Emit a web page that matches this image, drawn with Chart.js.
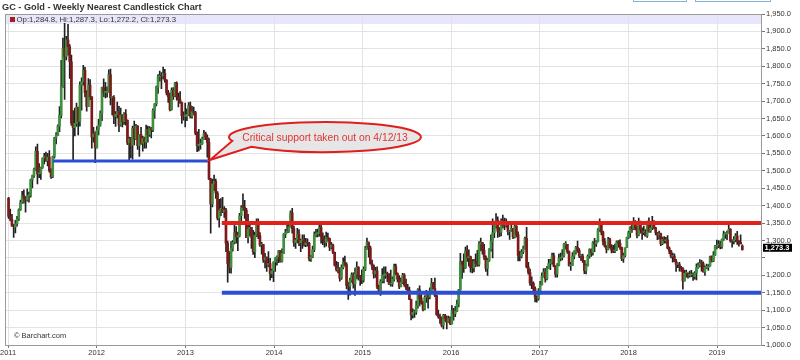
<!DOCTYPE html>
<html><head><meta charset="utf-8">
<script src="https://cdn.jsdelivr.net/npm/chart.js@4.4.1/dist/chart.umd.min.js"></script>
<style>html,body{margin:0;padding:0;background:#fff;}canvas{display:block;}</style>
</head><body>
<canvas id="c" width="800" height="360"></canvas>
<script>
const chartTitle = 'GC - Gold - Weekly Nearest Candlestick Chart';
const firstWeek = '2011-01-03';
const yearLabels = ['2011','2012','2013','2014','2015','2016','2017','2018','2019'];

// weekly OHLC, one value per week (2011 ... 2019)
const opens = [
1421,1369,1361,1342,1338,1348,1361,1388,1409,1429,1421,1416,1428,1429,1474,1486,1504,1556,1491,1493,1509,1536,1542,1529,1539,1500,1483,1541,1594,1601,1628,1659,1742,1852,1828,1876,1856,1813,1637,1624,1636,1682,1642,1746,1755,1788,1724,1684,1746,1712,1597,1606,
1566,1617,1631,1665,1739,1725,1725,1725,1776,1710,1711,1656,1662,1669,1631,1660,1642,1663,1645,1580,1592,1573,1622,1591,1628,1572,1604,1579,1593,1582,1619,1604,1621,1617,1673,1692,1740,1770,1773,1772,1780,1760,1724,1712,1676,1731,1714,1751,1711,1704,1696,1658,
1656,1656,1662,1687,1657,1669,1667,1609,1572,1576,1577,1592,1607,1596,1581,1476,1405,1462,1470,1436,1365,1386,1392,1383,1387,1292,1234,1223,1277,1295,1322,1310,1313,1371,1396,1395,1387,1308,1333,1338,1309,1268,1315,1352,1314,1287,1288,1244,1250,1230,1234,1204,
1213,1238,1248,1254,1270,1240,1263,1318,1323,1326,1339,1379,1334,1294,1302,1318,1293,1300,1302,1288,1293,1292,1246,1253,1274,1316,1320,1320,1338,1310,1303,1294,1309,1306,1280,1287,1266,1229,1216,1218,1192,1222,1238,1231,1171,1169,1186,1201,1175,1204,1223,1196,
1195,1186,1217,1277,1294,1279,1234,1227,1204,1213,1167,1153,1183,1199,1201,1205,1203,1175,1175,1189,1225,1205,1189,1168,1180,1201,1173,1164,1157,1131,1086,1094,1094,1113,1159,1134,1121,1103,1137,1146,1137,1155,1177,1162,1142,1088,1081,1076,1056,1085,1075,1065,
1076,1061,1098,1090,1097,1117,1158,1239,1231,1221,1270,1250,1254,1222,1221,1240,1235,1231,1290,1294,1272,1252,1220,1243,1275,1298,1322,1340,1358,1327,1323,1357,1344,1343,1346,1325,1327,1335,1310,1341,1317,1257,1254,1267,1276,1306,1224,1208,1178,1177,1162,1137,1133,
1152,1173,1197,1210,1190,1220,1234,1239,1257,1226,1203,1230,1249,1251,1257,1289,1289,1268,1228,1228,1255,1268,1280,1271,1256,1256,1242,1213,1228,1255,1274,1264,1294,1291,1297,1330,1351,1324,1297,1284,1274,1304,1280,1272,1269,1273,1296,1292,1280,1248,1257,1279,
1309,1322,1338,1333,1350,1333,1315,1353,1330,1323,1324,1313,1349,1327,1336,1347,1336,1323,1315,1320,1291,1303,1299,1302,1278,1270,1254,1255,1241,1231,1231,1223,1219,1184,1206,1206,1200,1201,1201,1196,1207,1222,1229,1236,1234,1210,1223,1223,1226,1252,1241,1258,
1283,1286,1290,1282,1303,1318,1318,1322,1332,1299,1298,1302,1313,1298,1295,1284.8];
const highs = [
1424,1390,1375,1346,1358,1369,1391,1416,1441,1445,1426,1448,1439,1476,1488,1508,1569,1577,1521,1511,1537,1550,1554,1550,1558,1506,1542,1596,1610,1632,1684,1817,1881,1923,1886,1920,1862,1832,1673,1680,1694,1683,1755,1767,1803,1797,1730,1765,1762,1713,1625,1612,
1627,1648,1672,1740,1764,1754,1741,1790,1792,1714,1716,1670,1697,1685,1680,1661,1667,1676,1646,1597,1596,1628,1643,1633,1630,1605,1625,1599,1597,1631,1628,1627,1625,1678,1693,1743,1776,1786,1782,1798,1791,1762,1731,1723,1738,1739,1754,1755,1723,1727,1697,1669,
1694,1678,1696,1697,1685,1683,1671,1612,1619,1591,1597,1616,1611,1603,1593,1478,1476,1488,1476,1440,1418,1420,1424,1397,1392,1298,1268,1297,1300,1348,1340,1324,1378,1400,1434,1415,1392,1375,1347,1338,1329,1324,1362,1362,1323,1295,1289,1263,1253,1268,1249,1218,
1239,1251,1256,1272,1271,1276,1320,1332,1345,1355,1385,1392,1341,1306,1335,1331,1304,1316,1316,1306,1305,1295,1257,1284,1325,1332,1333,1346,1344,1322,1313,1324,1321,1307,1295,1290,1267,1240,1237,1222,1230,1250,1255,1236,1180,1192,1207,1207,1221,1239,1225,1200,
1216,1224,1283,1307,1296,1284,1244,1230,1223,1224,1172,1188,1219,1224,1224,1209,1205,1215,1196,1232,1232,1207,1199,1193,1206,1205,1189,1174,1166,1132,1104,1100,1126,1162,1170,1148,1125,1142,1157,1147,1164,1191,1180,1192,1143,1100,1089,1081,1088,1088,1083,1083,
1081,1113,1105,1111,1129,1160,1263,1241,1262,1281,1285,1273,1255,1245,1246,1262,1272,1297,1307,1295,1289,1256,1248,1277,1316,1362,1343,1377,1368,1337,1362,1373,1364,1362,1348,1329,1355,1335,1345,1343,1325,1269,1274,1284,1310,1338,1237,1218,1196,1181,1167,1141,1162,
1183,1207,1219,1220,1226,1246,1246,1264,1264,1228,1234,1261,1264,1274,1292,1297,1289,1270,1237,1265,1271,1283,1298,1277,1260,1261,1243,1232,1259,1276,1276,1297,1306,1300,1334,1362,1351,1327,1306,1285,1309,1307,1288,1286,1290,1299,1300,1302,1281,1264,1279,1310,
1327,1340,1345,1366,1357,1342,1364,1356,1336,1341,1331,1356,1365,1349,1369,1357,1338,1323,1327,1321,1310,1311,1309,1314,1282,1272,1264,1262,1246,1236,1237,1226,1222,1214,1215,1207,1212,1214,1207,1211,1233,1236,1245,1243,1239,1227,1232,1231,1255,1256,1268,1286,
1301,1300,1298,1305,1327,1323,1327,1346,1334,1302,1311,1320,1326,1300,1316,1287.3];
const lows = [
1363,1356,1340,1309,1322,1341,1357,1386,1406,1407,1381,1413,1410,1424,1451,1481,1501,1462,1480,1475,1507,1520,1527,1514,1496,1478,1480,1536,1577,1601,1612,1652,1739,1705,1818,1832,1765,1630,1532,1600,1627,1603,1628,1674,1746,1712,1671,1684,1704,1565,1582,1523,
1565,1603,1628,1644,1713,1709,1711,1725,1689,1660,1635,1627,1652,1612,1628,1626,1633,1631,1575,1527,1537,1533,1574,1589,1561,1541,1576,1556,1565,1565,1582,1599,1594,1612,1650,1686,1722,1757,1736,1764,1754,1718,1696,1672,1674,1705,1713,1703,1683,1693,1636,1645,
1626,1644,1659,1652,1651,1660,1604,1555,1557,1562,1576,1590,1589,1539,1475,1321,1396,1443,1421,1359,1338,1371,1380,1366,1268,1180,1207,1206,1269,1290,1292,1271,1310,1348,1386,1363,1308,1293,1313,1277,1260,1251,1311,1305,1283,1261,1237,1221,1211,1225,1186,1193,
1182,1211,1229,1236,1238,1238,1262,1308,1322,1323,1338,1321,1283,1277,1293,1285,1268,1277,1284,1282,1284,1241,1240,1251,1268,1310,1310,1312,1292,1288,1281,1284,1298,1271,1276,1262,1226,1212,1207,1183,1188,1218,1226,1161,1131,1143,1180,1163,1142,1190,1186,1171,
1176,1180,1213,1274,1252,1232,1216,1192,1194,1162,1147,1142,1178,1178,1191,1182,1173,1169,1168,1183,1201,1181,1162,1167,1176,1168,1159,1147,1130,1072,1077,1079,1088,1106,1112,1117,1098,1101,1122,1106,1132,1153,1160,1139,1085,1077,1062,1052,1046,1068,1046,1064,
1058,1060,1071,1081,1096,1109,1157,1191,1208,1220,1240,1226,1209,1207,1210,1225,1226,1226,1270,1261,1245,1211,1200,1240,1269,1250,1308,1335,1309,1311,1313,1336,1331,1338,1316,1303,1326,1305,1307,1310,1241,1241,1250,1262,1275,1221,1203,1171,1162,1156,1124,1123,1129,
1146,1172,1195,1180,1187,1219,1216,1232,1224,1195,1195,1227,1241,1244,1253,1275,1263,1226,1214,1228,1247,1261,1266,1251,1243,1237,1205,1204,1226,1249,1254,1258,1268,1283,1296,1326,1316,1287,1281,1264,1273,1278,1264,1265,1265,1271,1281,1274,1242,1237,1253,1279,
1305,1309,1323,1331,1330,1307,1313,1321,1303,1317,1312,1309,1323,1323,1331,1333,1316,1302,1304,1285,1288,1292,1292,1276,1262,1250,1238,1239,1211,1222,1212,1211,1160,1183,1195,1192,1195,1196,1185,1189,1187,1220,1224,1212,1209,1200,1219,1214,1226,1238,1239,1257,
1276,1279,1276,1277,1300,1306,1302,1321,1295,1281,1290,1296,1289,1284,1290,1272.2];
const closes = [
1369,1361,1342,1341,1348,1361,1388,1409,1429,1421,1416,1428,1429,1474,1486,1504,1556,1491,1493,1509,1536,1542,1529,1539,1500,1483,1541,1594,1601,1628,1659,1742,1852,1828,1876,1856,1813,1637,1624,1636,1682,1642,1746,1755,1788,1724,1684,1746,1712,1597,1606,1566,
1617,1631,1665,1739,1725,1725,1725,1776,1710,1711,1656,1662,1669,1631,1660,1642,1663,1645,1580,1592,1573,1622,1591,1628,1572,1604,1579,1593,1582,1619,1604,1621,1617,1673,1692,1740,1770,1773,1772,1780,1760,1724,1712,1676,1731,1714,1751,1711,1704,1696,1658,1656,
1656,1662,1687,1657,1669,1667,1609,1572,1576,1577,1592,1607,1596,1581,1476,1405,1462,1470,1436,1365,1386,1392,1383,1387,1292,1234,1223,1277,1295,1322,1310,1313,1371,1396,1395,1387,1308,1333,1338,1309,1268,1315,1352,1314,1287,1288,1244,1250,1230,1234,1204,1213,
1238,1248,1254,1270,1240,1263,1318,1323,1326,1339,1379,1334,1294,1302,1318,1293,1300,1302,1288,1293,1292,1246,1253,1274,1316,1320,1320,1338,1310,1303,1294,1309,1306,1280,1287,1266,1229,1216,1218,1192,1222,1238,1231,1171,1169,1186,1201,1175,1204,1223,1196,1195,
1186,1217,1277,1294,1279,1234,1227,1204,1213,1167,1153,1183,1199,1201,1205,1203,1175,1175,1189,1225,1205,1189,1168,1180,1201,1173,1164,1157,1131,1086,1094,1094,1113,1159,1134,1121,1103,1137,1146,1137,1155,1177,1162,1142,1088,1081,1076,1056,1085,1075,1065,1076,
1061,1098,1090,1097,1117,1158,1239,1231,1221,1270,1250,1254,1222,1221,1240,1235,1231,1290,1294,1272,1252,1220,1243,1275,1298,1322,1340,1358,1327,1323,1357,1344,1343,1346,1325,1327,1335,1310,1341,1317,1257,1254,1267,1276,1306,1224,1208,1178,1177,1162,1137,1133,1152,
1173,1197,1210,1190,1220,1234,1239,1257,1226,1203,1230,1249,1251,1257,1289,1289,1268,1228,1228,1255,1268,1280,1271,1256,1256,1242,1213,1228,1255,1274,1264,1294,1291,1297,1330,1351,1324,1297,1284,1274,1304,1280,1272,1269,1273,1296,1292,1280,1248,1257,1279,1309,
1322,1338,1333,1350,1333,1315,1353,1330,1323,1324,1313,1349,1327,1336,1347,1336,1323,1315,1320,1291,1303,1299,1302,1278,1270,1254,1255,1241,1231,1231,1223,1219,1184,1206,1206,1200,1201,1201,1196,1207,1222,1229,1236,1234,1210,1223,1223,1226,1252,1241,1258,1283,
1286,1290,1282,1303,1318,1318,1322,1332,1299,1298,1302,1313,1298,1295,1290,1273.3];

const supportLevels = [1528, 1350, 1150];
const supportFrom = ['2011-07-05', '2013-05-31', '2013-05-31'];
const supportTo = ['2013-04-03', '2019-07-01', '2019-07-01'];
const calloutText = 'Critical support taken out on 4/12/13';
const calloutDate = '2013-04-12';
const calloutLevel = 1528;
const yMin = 1000, yMax = 1950, yStep = 50;
const xFrom = '2010-12-20', xTo = '2019-07-01';

// ---- helpers ----
const BASE = Date.UTC(2011, 0, 1);
const day = s => (Date.parse(s + 'T00:00:00Z') - BASE) / 86400000;
const weekDay = i => day(firstWeek) + 7 * i;
const fmt = v => { const s = Number(v).toFixed(1).split('.'); return s[0].replace(/\B(?=(\d{3})+(?!\d))/g, ',') + '.' + s[1]; };
const FONT = "'Liberation Sans', Arial, sans-serif";
const lastO = opens[opens.length-1], lastH = highs[highs.length-1], lastL = lows[lows.length-1], lastC = closes[closes.length-1];

const UP = '#3f8f3f', DOWN = '#7d1b1b', WICK = '#222222';

const wickData = highs.map((h, i) => ({x: weekDay(i), y: [lows[i], h]}));
const bodyData = opens.map((o, i) => ({x: weekDay(i), y: [Math.min(o, closes[i]), Math.max(o, closes[i])]}));
const bodyColors = opens.map((o, i) => closes[i] >= o ? UP : DOWN);
const lineColors = ['#2b4ed6', '#e3201b', '#2b4ed6'];
const lineWidths = [3, 4, 4];

const supportSets = supportLevels.map((lv, k) => ({
  type: 'line',
  data: [{x: day(supportFrom[k]), y: lv}, {x: day(supportTo[k]), y: lv}],
  borderColor: lineColors[k], borderWidth: lineWidths[k],
  pointRadius: 0, order: 0, clip: false
}));

const decor = {
  id: 'decor',
  beforeDraw(chart) {
    const {ctx, chartArea: a} = chart;
    ctx.save();
    ctx.fillStyle = '#e7e6fa';
    ctx.fillRect(a.left, a.top, a.right - a.left, 10);
    ctx.restore();
  },
  afterDraw(chart) {
    const {ctx, chartArea: a, scales} = chart;
    ctx.save();
    // plot border
    ctx.strokeStyle = '#9a9a9a'; ctx.lineWidth = 1;
    ctx.strokeRect(Math.round(a.left) + 0.5, Math.round(a.top) + 0.5, Math.round(a.right - a.left), Math.round(a.bottom - a.top));
    // title
    ctx.fillStyle = '#333333';
    ctx.font = "bold 9.2px " + FONT;
    ctx.textBaseline = 'alphabetic'; ctx.textAlign = 'left';
    ctx.fillText(chartTitle, 2, 9.6);
    // header OHLC
    ctx.fillStyle = '#a51c1c';
    ctx.fillRect(10, 17, 5, 5);
    ctx.fillStyle = '#333333';
    ctx.font = "7.8px " + FONT;
    ctx.fillText('Op:' + fmt(lastO) + ', Hi:' + fmt(lastH) + ', Lo:' + fmt(lastL) + ', Cl:' + fmt(lastC), 16.5, 22.3);
    // copyright
    ctx.font = "7.5px " + FONT;
    ctx.fillText('\u00A9 Barchart.com', 14, 338);
    // top-right buttons (cut off)
    ctx.strokeStyle = '#86b3d9'; ctx.lineWidth = 1;
    ctx.strokeRect(633.5, -10, 53, 11.5);
    ctx.strokeRect(695.5, -10, 75, 11.5);
    // callout
    const tx = scales.x.getPixelForValue(day(calloutDate));
    const ty = scales.y.getPixelForValue(calloutLevel) - 1;
    const cx = tx + 115, cy = ty - 23, rx = 96, ry = 15;
    const a1 = 165 * Math.PI / 180, a2 = (140 + 360) * Math.PI / 180;
    ctx.beginPath();
    ctx.ellipse(cx, cy, rx, ry, 0, a1, a2);
    ctx.lineTo(tx, ty);
    ctx.closePath();
    ctx.fillStyle = '#e6e6e6';
    ctx.fill();
    ctx.strokeStyle = '#e01e1e'; ctx.lineWidth = 2;
    ctx.stroke();
    ctx.fillStyle = '#e03434';
    ctx.font = "10.3px " + FONT;
    ctx.textAlign = 'center'; ctx.textBaseline = 'middle';
    ctx.fillText(calloutText, cx, cy + 1);
    // last price box
    const py = scales.y.getPixelForValue(lastC) - 2;
    ctx.fillStyle = '#000000';
    ctx.fillRect(a.right + 2, py - 4, 29, 8);
    ctx.fillStyle = '#ffffff';
    ctx.font = "bold 7.5px " + FONT;
    ctx.textAlign = 'left';
    ctx.fillText(fmt(lastC), a.right + 3.5, py + 0.5);
    ctx.restore();
  }
};

new Chart(document.getElementById('c'), {
  type: 'bar',
  data: {
    datasets: [
      {type: 'bar', data: wickData, backgroundColor: WICK, barThickness: 1, grouped: false, order: 3},
      {type: 'bar', data: bodyData, backgroundColor: bodyColors, barThickness: 2, minBarLength: 1, grouped: false, order: 2},
      ...supportSets
    ]
  },
  options: {
    responsive: false, animation: false, devicePixelRatio: 1,
    layout: {padding: {left: 5, top: 14, right: 0, bottom: 0}, autoPadding: false},
    plugins: {legend: {display: false}, tooltip: {enabled: false}, title: {display: false}},
    scales: {
      x: {
        type: 'linear', min: day(xFrom), max: day(xTo), offset: false,
        grid: {color: '#e3e3e3', offset: false, tickLength: 3, tickColor: '#777'},
        border: {color: '#8a8a8a'},
        ticks: {autoSkip: false, maxRotation: 0, padding: 0, color: '#333',
          font: {size: 7.5, family: FONT},
          callback: v => { const k = yearLabels.findIndex(y => day(y + '-01-01') === v); return k >= 0 ? yearLabels[k] : ''; }},
        afterBuildTicks: s => { s.ticks = yearLabels.map(y => ({value: day(y + '-01-01')})); },
        afterFit: s => { s.height = 15; }
      },
      y: {
        position: 'right', min: yMin, max: yMax,
        grid: {color: '#e3e3e3', tickLength: 4, tickColor: '#777'},
        border: {color: '#8a8a8a'},
        ticks: {stepSize: yStep, padding: 1, color: '#333', font: {size: 7.5, family: FONT},
          callback: v => Math.abs(v - lastC) < 25 ? '' : fmt(v)},
        afterFit: s => { s.width = 39; }
      }
    }
  },
  plugins: [decor]
});
</script>
</body></html>
